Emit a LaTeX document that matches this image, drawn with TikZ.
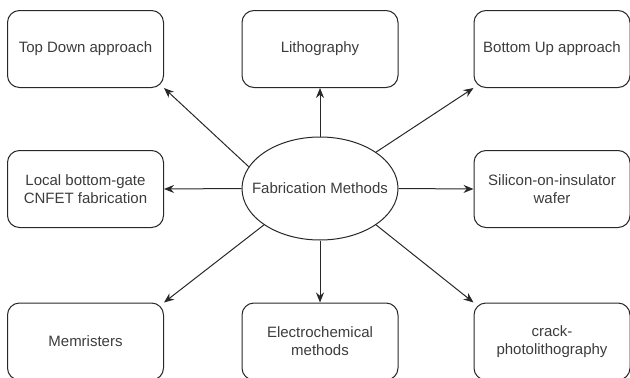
\documentclass[tikz,border=0pt]{standalone}
\usepackage{fontspec}
\setmainfont{Liberation Sans}
\usetikzlibrary{shapes.geometric,arrows.meta,positioning}
\definecolor{edgegray}{RGB}{40,40,40}
\definecolor{textgray}{RGB}{60,60,60}

\begin{document}
\begin{tikzpicture}[x=1pt,y=-1pt,
  method/.style={draw=edgegray,rectangle,rounded corners=12pt,line width=1pt,
                 minimum width=156pt,minimum height=77pt,align=center,
                 text=textgray,font=\fontsize{15}{18}\selectfont},
  hub/.style={draw=edgegray,ellipse,line width=1pt,
              minimum width=156pt,minimum height=103pt,inner sep=0pt,
              label={[text=textgray,font=\fontsize{15}{18}\selectfont]center:#1}},
  arr/.style={-{Stealth[length=10pt,width=8pt]},draw=edgegray,line width=1pt}
]
  \useasboundingbox (0,0) rectangle (630,378);

  % Centre
  \node[hub={Fabrication Methods}] (fab) at (320,188.5) {};

  % Methods
  \node[method] (topdown)   at (85.5,49)   {Top Down approach};
  \node[method] (litho)     at (320,49)    {Lithography};
  \node[method] (bottomup)  at (552,49)    {Bottom Up approach};
  \node[method] (localgate) at (85.5,189)  {Local bottom-gate\\CNFET fabrication};
  \node[method] (soi)       at (552,189)   {Silicon-on-insulator\\wafer};
  \node[method] (memr)      at (85.5,341.5) {Memristers};
  \node[method] (echem)     at (320,341.5) {Electrochemical\\methods};
  \node[method] (crack)     at (552,341.5) {crack-\\photolithography};

  % Flows
  \draw[arr] (fab.163) -- (topdown.south east);
  \draw[arr] (fab.north) -- (litho.south);
  \draw[arr] (fab.33) -- (bottomup.south west);
  \draw[arr] (fab.west) -- (localgate.east);
  \draw[arr] (fab.east) -- (soi.west);
  \draw[arr] (fab.-147) -- (memr.north east);
  \draw[arr] (fab.south) -- (echem.north);
  \draw[arr] (fab.-33) -- (crack.north west);
\end{tikzpicture}
\end{document}
